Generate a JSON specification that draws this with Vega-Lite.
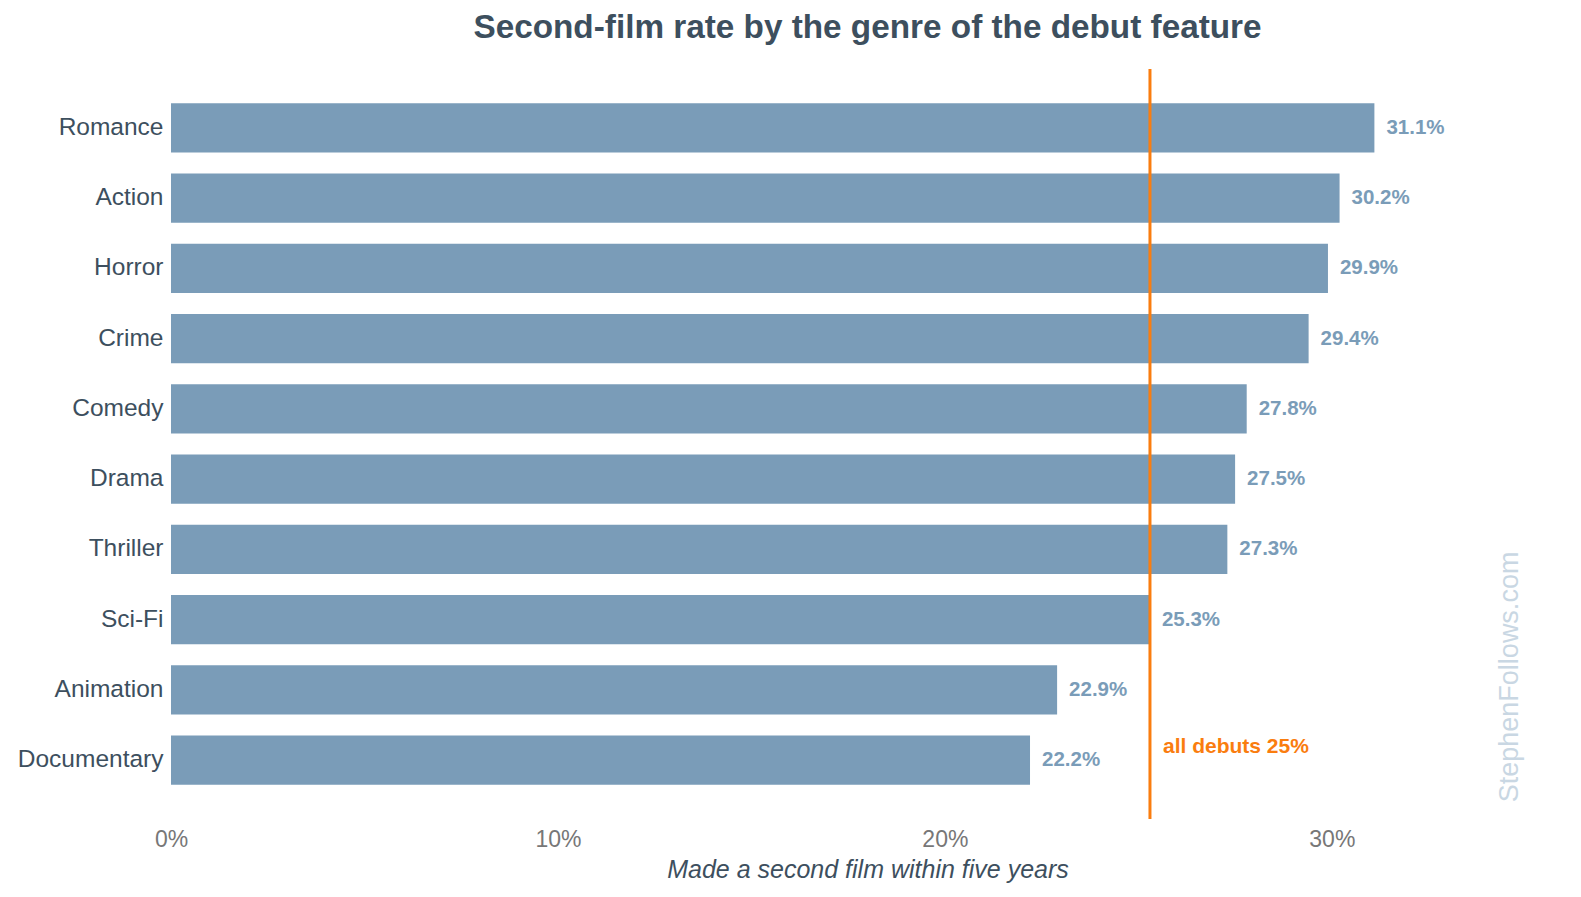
{
  "$schema": "https://vega.github.io/schema/vega-lite/v6.json",
  "width": 1581,
  "height": 897,
  "autosize": {"type": "fit", "contains": "padding"},
  "padding": {"left": 0, "top": 11, "right": 17, "bottom": 15},
  "background": "white",
  "config": {
    "view": {"stroke": null},
    "font": "Liberation Sans"
  },
  "title": {
    "text": "Second-film rate by the genre of the debut feature",
    "fontSize": 33.3,
    "fontWeight": "bold",
    "color": "#3d4f5e",
    "anchor": "middle",
    "offset": 22,
    "font": "Liberation Sans"
  },
  "data": {
    "values": [
      {"genre": "Romance", "rate": 0.311, "label": "31.1%"},
      {"genre": "Action", "rate": 0.302, "label": "30.2%"},
      {"genre": "Horror", "rate": 0.299, "label": "29.9%"},
      {"genre": "Crime", "rate": 0.294, "label": "29.4%"},
      {"genre": "Comedy", "rate": 0.278, "label": "27.8%"},
      {"genre": "Drama", "rate": 0.275, "label": "27.5%"},
      {"genre": "Thriller", "rate": 0.273, "label": "27.3%"},
      {"genre": "Sci-Fi", "rate": 0.253, "label": "25.3%"},
      {"genre": "Animation", "rate": 0.229, "label": "22.9%"},
      {"genre": "Documentary", "rate": 0.222, "label": "22.2%"}
    ]
  },
  "encoding": {
    "y": {
      "field": "genre",
      "type": "nominal",
      "sort": null,
      "scale": {"paddingInner": 0.3, "paddingOuter": 0.487},
      "axis": {
        "title": null,
        "domain": false,
        "ticks": false,
        "labelPadding": 8,
        "labelFontSize": 24.5,
        "labelColor": "#3d4f5e",
        "labelFont": "Liberation Sans",
        "minExtent": 171,
        "maxExtent": 171
      }
    },
    "x": {
      "field": "rate",
      "type": "quantitative",
      "scale": {"domain": [0, 0.36], "nice": false},
      "axis": {
        "title": "Made a second film within five years",
        "titleFontSize": 25,
        "titleFontStyle": "italic",
        "titleFontWeight": "normal",
        "titleColor": "#3d4f5e",
        "titlePadding": 6,
        "values": [0, 0.1, 0.2, 0.3],
        "format": ".0%",
        "domain": false,
        "ticks": false,
        "grid": false,
        "labelFlush": false,
        "labelPadding": 9,
        "labelFontSize": 23,
        "labelColor": "#777777",
        "labelFont": "Liberation Sans"
      }
    }
  },
  "layer": [
    {
      "mark": {"type": "bar", "color": "#7a9cb8"}
    },
    {
      "mark": {
        "type": "text",
        "align": "left",
        "baseline": "middle",
        "dx": 12,
        "fontSize": 20.5,
        "fontWeight": "bold",
        "color": "#7a9cb8",
        "font": "Liberation Sans"
      },
      "encoding": {"text": {"field": "label"}}
    },
    {
      "data": {"values": [{"avg": 0.253}]},
      "mark": {"type": "rule", "color": "#fa7d0f", "strokeWidth": 3},
      "encoding": {"x": {"field": "avg", "type": "quantitative"}, "y": null}
    },
    {
      "data": {"values": [{"avg": 0.253, "genre": "Documentary", "note": "all debuts 25%"}]},
      "mark": {
        "type": "text",
        "align": "left",
        "baseline": "middle",
        "dx": 13,
        "dy": -13,
        "fontSize": 21,
        "fontWeight": "bold",
        "color": "#fa7d0f",
        "font": "Liberation Sans"
      },
      "encoding": {
        "x": {"field": "avg", "type": "quantitative"},
        "y": {"field": "genre", "type": "nominal", "sort": null},
        "text": {"field": "note"}
      }
    },
    {
      "data": {"values": [{"pos": 0.346, "genre": "Animation", "mark": "StephenFollows.com"}]},
      "mark": {
        "type": "text",
        "align": "center",
        "baseline": "middle",
        "angle": 270,
        "dx": 13,
        "fontSize": 27,
        "color": "#c9d7e3",
        "font": "Liberation Sans"
      },
      "encoding": {
        "x": {"field": "pos", "type": "quantitative"},
        "y": {"field": "genre", "type": "nominal", "sort": null},
        "text": {"field": "mark"}
      }
    }
  ]
}
